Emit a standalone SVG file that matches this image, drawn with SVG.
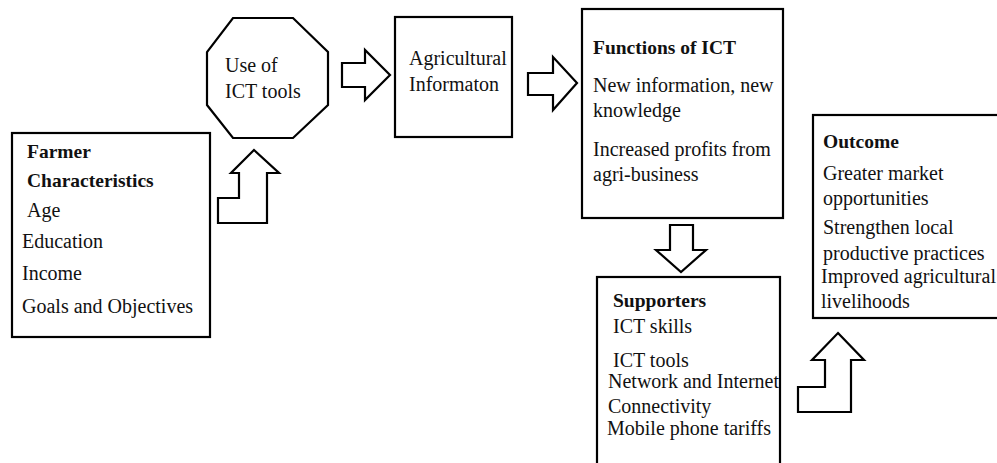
<svg xmlns="http://www.w3.org/2000/svg" width="997" height="463" viewBox="0 0 997 463">
<style>
.box{fill:#fff;stroke:#000;stroke-width:2.2}
.arr{fill:#fff;stroke:#000;stroke-width:2.2;stroke-linejoin:miter}
text{font-family:"Liberation Serif","Times New Roman",serif;font-size:20px;fill:#111}
.b{font-weight:bold;font-size:19.5px}
</style>
<rect width="997" height="463" fill="#fff"/>
<g id="connectors">
<polygon class="arr" points="254,150 279,173 267,173 267,223 218,223 218,198 239,198 239,173 231,173"/>
<polygon class="arr" points="342,63 365,63 365,50 390,75 365,100 365,87 342,87"/>
<polygon class="arr" points="528,73 553,73 553,57 577,83 553,110 553,95 528,95"/>
<polygon class="arr" points="670,225 693,225 693,250 706,250 681,272 656,250 670,250"/>
<polygon class="arr" points="838,333 864,360 851,360 851,412 798,412 798,387 825,387 825,360 812,360"/>
</g>
<g id="farmer">
<rect class="box" x="12" y="133" width="198" height="204"/>
<text class="b" x="27" y="158">Farmer</text>
<text class="b" x="27" y="187">Characteristics</text>
<text x="27" y="217">Age</text>
<text x="22" y="248">Education</text>
<text x="22" y="280">Income</text>
<text x="22" y="313">Goals and Objectives</text>
</g>
<g id="ict-use">
<polygon class="box" points="233,18 293,18 328,52 328,105 293,138 233,138 207,105 207,52"/>
<text x="225" y="72">Use of</text>
<text x="225" y="98">ICT tools</text>
</g>
<g id="agri-info">
<rect class="box" x="395" y="17" width="117" height="120"/>
<text x="409" y="65">Agricultural</text>
<text x="409" y="91">Informaton</text>
</g>
<g id="functions">
<rect class="box" x="582" y="9" width="201" height="209"/>
<text class="b" x="593" y="54">Functions of ICT</text>
<text x="593" y="92">New information, new</text>
<text x="593" y="117">knowledge</text>
<text x="593" y="156">Increased profits from</text>
<text x="593" y="181">agri-business</text>
</g>
<g id="supporters">
<rect class="box" x="597" y="277" width="183" height="200"/>
<text class="b" x="613" y="307">Supporters</text>
<text x="613" y="333">ICT skills</text>
<text x="613" y="367">ICT tools</text>
<text x="608" y="388">Network and Internet</text>
<text x="608" y="413">Connectivity</text>
<text x="607" y="435">Mobile phone tariffs</text>
</g>
<g id="outcome">
<rect class="box" x="813" y="115" width="200" height="203"/>
<text class="b" x="823" y="148">Outcome</text>
<text x="823" y="180">Greater market</text>
<text x="823" y="205">opportunities</text>
<text x="823" y="234">Strengthen local</text>
<text x="823" y="260">productive practices</text>
<text x="821" y="283">Improved agricultural</text>
<text x="821" y="308">livelihoods</text>
</g>
</svg>
